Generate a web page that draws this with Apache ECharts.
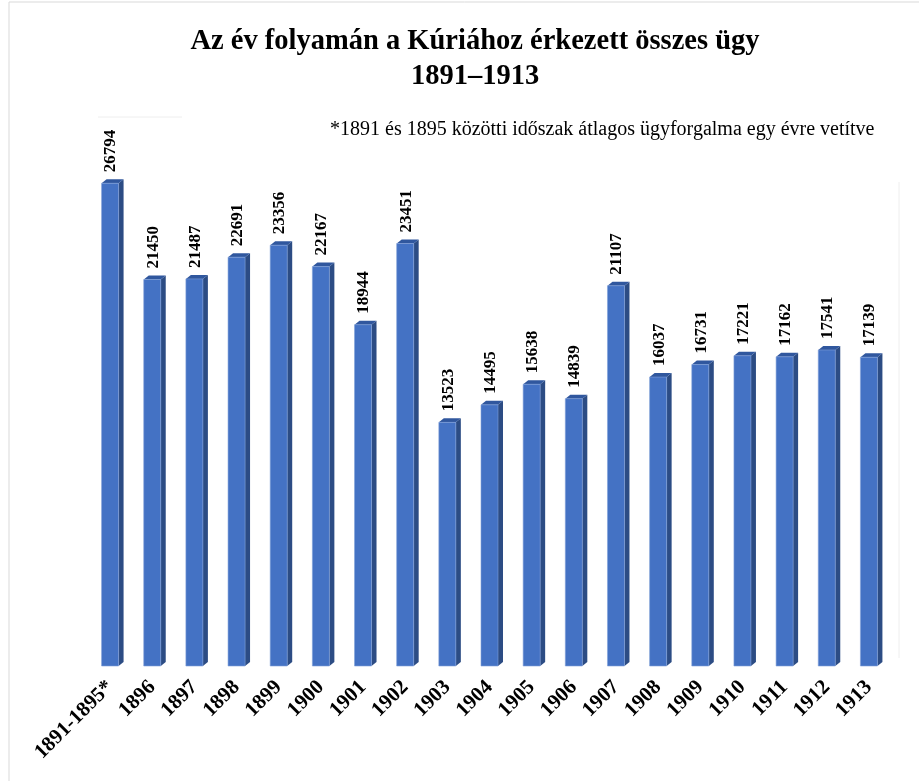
<!DOCTYPE html>
<html>
<head>
<meta charset="utf-8">
<script src="https://cdn.jsdelivr.net/npm/echarts@6/dist/echarts.min.js"></script>
<style>html,body{margin:0;padding:0;background:#fff;}#chart{width:919px;height:781px;}</style>
</head>
<body>
<div id="chart"></div>
<script>
const categories = ['1891-1895*','1896','1897','1898','1899','1900','1901','1902','1903','1904','1905','1906','1907','1908','1909','1910','1911','1912','1913'];
const values = [26794,21450,21487,22691,23356,22167,18944,23451,13523,14495,15638,14839,21107,16037,16731,17221,17162,17541,17139];
const titleText = 'Az év folyamán a Kúriához érkezett összes ügy\n1891–1913';
const noteText = '*1891 és 1895 közötti időszak átlagos ügyforgalma egy évre vetítve';

const FONT = '"Liberation Serif", "Times New Roman", serif';
const chart = echarts.init(document.getElementById('chart'));

function renderBar(params, api) {
  const idx = api.value(0);
  const val = api.value(1);
  const top = api.coord([idx, val]);
  const base = api.coord([idx, 0]);
  const w = 17, dx = 5, dy = 4;
  const x0 = top[0] - w / 2, x1 = top[0] + w / 2;
  const yt = top[1], yb = base[1];
  return {
    type: 'group',
    children: [
      { type: 'polygon', shape: { points: [[x1, yb], [x1 + dx, yb - dy], [x1 + dx, yt - dy], [x1, yt]] },
        style: { fill: '#2C4C84' } },
      { type: 'polygon', shape: { points: [[x0, yt], [x0 + dx, yt - dy], [x1 + dx, yt - dy], [x1, yt]] },
        style: { fill: '#30579E' } },
      { type: 'rect', shape: { x: x0, y: yt, width: w, height: yb - yt },
        style: { fill: '#4472C4', stroke: '#7F9FD8', lineWidth: 0.6 } },
      { type: 'text', x: top[0] + 1, y: yt - dy - 7, rotation: Math.PI / 2,
        style: { text: String(val), font: 'bold 17px ' + FONT, fill: '#000',
                 align: 'left', verticalAlign: 'middle' } }
    ]
  };
}

chart.setOption({
  backgroundColor: '#fff',
  animation: false,
  title: {
    text: titleText,
    left: 470, top: 19, textAlign: 'center',
    textStyle: { fontFamily: FONT, fontWeight: 'bold', fontSize: 28.5, lineHeight: 35, color: '#000' }
  },
  grid: { left: 89, right: 29, top: 125.5, bottom: 115 },
  xAxis: {
    type: 'category',
    data: categories,
    axisLine: { show: false },
    axisTick: { show: false },
    axisLabel: { rotate: 45, interval: 0, margin: 18, fontFamily: FONT, fontWeight: 'bold', fontSize: 21, color: '#000' }
  },
  yAxis: { type: 'value', min: 0, max: 30000, show: false, splitLine: { show: false } },
  graphic: [
    { type: 'rect', shape: { x: 9, y: 2, width: 1000, height: 1000 }, style: { fill: 'none', stroke: '#d9d9d9', lineWidth: 1 }, silent: true },
    { type: 'line', shape: { x1: 98, y1: 117, x2: 182, y2: 117 }, style: { stroke: '#eeeeee', lineWidth: 1 } },
    { type: 'line', shape: { x1: 899, y1: 182, x2: 899, y2: 658 }, style: { stroke: '#eeeeee', lineWidth: 1 } },
    { type: 'text', left: 330, top: 120, style: { text: noteText, font: '20px ' + FONT, fill: '#000' } }
  ],
  series: [{
    type: 'custom',
    renderItem: renderBar,
    encode: { x: 0, y: 1 },
    data: values.map((v, i) => [i, v]),
    clip: false
  }]
});
</script>
</body>
</html>
